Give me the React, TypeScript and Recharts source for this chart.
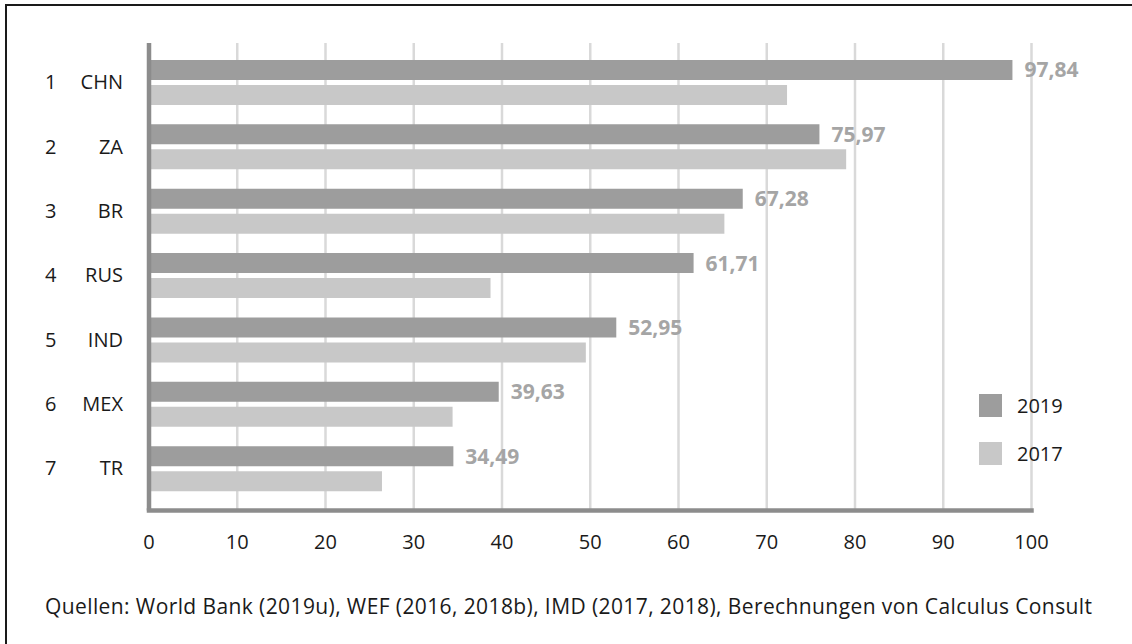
import React from 'react';
import {
  BarChart,
  Bar,
  XAxis,
  YAxis,
  CartesianGrid,
  Legend,
  LabelList
} from 'recharts';

// Ranking (rank + country code) and scores per year
const ranks = ['1', '2', '3', '4', '5', '6', '7'];
const countries = ['CHN', 'ZA', 'BR', 'RUS', 'IND', 'MEX', 'TR'];
const values2019 = [97.84, 75.97, 67.28, 61.71, 52.95, 39.63, 34.49];
const values2017 = [72.3, 79.0, 65.2, 38.7, 49.5, 34.4, 26.4];
const xTicks = [0, 10, 20, 30, 40, 50, 60, 70, 80, 90, 100];
const seriesNames = ['2019', '2017'];

const FONT = '"Open Sans", "Noto Sans", sans-serif';
const TEXT = '#1a1a1a';
const DARK = '#9d9d9d';
const LIGHT = '#c8c8c8';

const chartData = countries.map((code, i) => ({
  code,
  rank: ranks[i],
  y2019: values2019[i],
  y2017: values2017[i]
}));

function CountryTick({ x, y, payload }: any) {
  const idx = countries.indexOf(payload.value);
  return (
    <g>
      <text x={x - 78} y={y} dy="0.35em" textAnchor="start" fontSize={20} fill={TEXT} fontFamily={FONT}>
        {ranks[idx]}
      </text>
      <text x={x} y={y} dy="0.35em" textAnchor="end" fontSize={20} fill={TEXT} fontFamily={FONT}>
        {payload.value}
      </text>
    </g>
  );
}

function ValueTick({ x, y, payload }: any) {
  return (
    <text x={x} y={y} dy="0.35em" textAnchor="middle" fontSize={20} fill={TEXT} fontFamily={FONT}>
      {payload.value}
    </text>
  );
}

function YearLegend({ payload }: any) {
  const items = [...(payload || [])].sort(
    (a: any, b: any) => seriesNames.indexOf(a.value) - seriesNames.indexOf(b.value)
  );
  return (
    <div style={{ fontFamily: FONT, fontSize: 20, color: TEXT }}>
      {items.map((entry: any) => (
        <div key={entry.value} style={{ display: 'flex', alignItems: 'center', height: 23, marginBottom: 24.7 }}>
          <span style={{ display: 'inline-block', width: 23, height: 23, background: entry.color }} />
          <span style={{ marginLeft: 15, lineHeight: '23px' }}>{entry.value}</span>
        </div>
      ))}
    </div>
  );
}

export default function App() {
  return (
    <div style={{ position: 'absolute', left: 0, top: 0, width: 1132, height: 644, background: '#fff', overflow: 'hidden' }}>
      <div
        style={{
          position: 'absolute',
          left: 5,
          top: 4,
          width: 1200,
          height: 700,
          borderTop: '2px solid #1a1a1a',
          borderLeft: '2px solid #1a1a1a'
        }}
      />
      <BarChart
        width={1132}
        height={644}
        data={chartData}
        layout="vertical"
        barSize={20}
        barGap={5}
        margin={{ top: 43, right: 100.5, left: 0, bottom: 73.5 }}
        style={{ position: 'absolute', left: 0, top: 0 }}
      >
        <CartesianGrid horizontal={false} stroke="#d9d9d9" strokeWidth={2.5} />
        <Bar dataKey="y2019" name="2019" fill={DARK} isAnimationActive={false}>
          <LabelList
            dataKey="y2019"
            position="right"
            offset={12}
            formatter={(v: any) => Number(v).toFixed(2).replace('.', ',')}
            style={{ fill: '#a5a5a5', fontWeight: 700, fontSize: 21, fontFamily: FONT }}
          />
        </Bar>
        <Bar dataKey="y2017" name="2017" fill={LIGHT} isAnimationActive={false} />
        <XAxis
          type="number"
          domain={[0, 100]}
          ticks={xTicks}
          height={60}
          tickSize={0}
          tickMargin={31.5}
          tick={<ValueTick />}
          axisLine={{ stroke: '#8c8c8c', strokeWidth: 4.5, strokeLinecap: 'square' }}
          tickLine={false}
        />
        <YAxis
          type="category"
          dataKey="code"
          width={149}
          padding={{ top: 7, bottom: 10 }}
          tickSize={0}
          tickMargin={26}
          tick={<CountryTick />}
          axisLine={{ stroke: '#8c8c8c', strokeWidth: 4.5 }}
          tickLine={false}
        />
        <Legend
          layout="vertical"
          align="center"
          verticalAlign="middle"
          content={<YearLegend />}
          wrapperStyle={{ position: 'absolute', left: 979, top: 394, width: 'auto' }}
        />
      </BarChart>
      <div
        style={{
          position: 'absolute',
          left: 45,
          top: 594,
          fontFamily: FONT,
          fontSize: 21,
          letterSpacing: 0.4,
          lineHeight: '24px',
          color: TEXT,
          whiteSpace: 'nowrap'
        }}
      >
        Quellen: World Bank (2019u), WEF (2016, 2018b), IMD (2017, 2018), Berechnungen von Calculus Consult
      </div>
    </div>
  );
}
